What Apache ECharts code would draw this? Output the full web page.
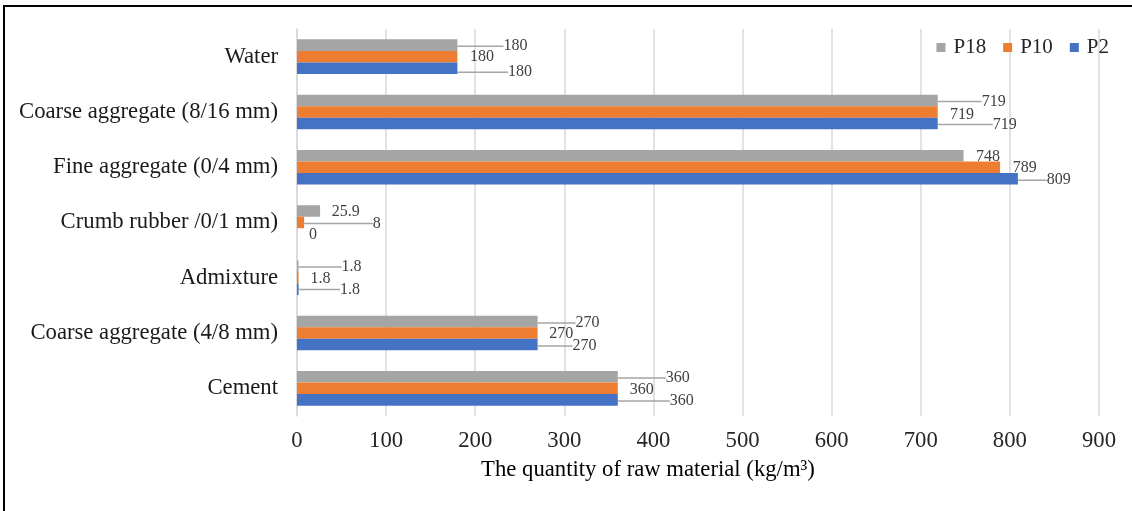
<!DOCTYPE html>
<html>
<head>
<meta charset="utf-8">
<script src="https://cdn.jsdelivr.net/npm/echarts@6/dist/echarts.min.js"></script>
<style>
html,body{margin:0;padding:0;background:#fff;}
#chart{width:1132px;height:511px;}
</style>
</head>
<body>
<div id="chart"></div>
<script>
// Categories listed bottom to top (category axis starts at bottom)
const categories = ['Cement', 'Coarse aggregate (4/8 mm)', 'Admixture', 'Crumb rubber /0/1 mm)', 'Fine aggregate (0/4 mm)', 'Coarse aggregate (8/16 mm)', 'Water'];
const seriesNames = ['P18', 'P10', 'P2'];
const p18 = [360, 270, 1.8, 25.9, 748, 719, 180];
const p10 = [360, 270, 1.8, 8, 789, 719, 180];
const p2 = [360, 270, 1.8, 0, 809, 719, 180];
const xTicks = [0, 100, 200, 300, 400, 500, 600, 700, 800, 900];

// label offsets (style only): [dx, dy] relative to default 'right' position
const labelOffsets = {
  P18: [[43, 1.2], [33, 1.4], [38, 0.7], [6.6, 1], [7.5, 1], [39, 1], [41, 1]],
  P10: [[7, 1.3], [6.7, 0.6], [7, 0.8], [63.6, 1], [7.6, 0.7], [7.3, 2.5], [7.6, 0.5]],
  P2:  [[47, 1.2], [30, 1.4], [36.4, 0.3], [7, 0.5], [23.8, 1.5], [50, 1], [45.6, 4]]
};
const colors = { P18: '#A5A5A5', P10: '#ED7D31', P2: '#4472C4' };
const values = { P18: p18, P10: p10, P2: p2 };

const FONT = '"Liberation Serif", "Times New Roman", serif';
const BIG = 22.7;

const chart = echarts.init(document.getElementById('chart'), null, { renderer: 'canvas' });

const series = seriesNames.map(function (name) {
  return {
    name: name,
    type: 'bar',
    barGap: '0%',
    barCategoryGap: '37.5%',
    itemStyle: { color: colors[name] },
    data: values[name].map(function (v, i) {
      return {
        value: v,
        labelLine: { show: labelOffsets[name][i][0] > 15 }
      };
    }),
    label: {
      show: true,
      position: 'right',
      distance: 5,
      fontFamily: FONT,
      fontSize: 16,
      color: '#404040'
    },
    labelLine: {
      show: true,
      lineStyle: { color: '#A5A5A5', width: 1.5 }
    },
    labelLayout: function (params) {
      const off = labelOffsets[name][params.dataIndex];
      return { dx: off[0], dy: off[1] };
    }
  };
});

chart.setOption({
  animation: false,
  backgroundColor: '#ffffff',
  textStyle: { fontFamily: FONT },
  grid: { left: 297, right: 33, top: 29, bottom: 95, containLabel: false },
  legend: {
    data: seriesNames,
    right: 18,
    top: 32,
    icon: 'rect',
    itemWidth: 9,
    itemHeight: 9,
    itemGap: 17,
    textStyle: { fontFamily: FONT, fontSize: 21, color: '#262626', padding: [0, 0, 0, 3] }
  },
  xAxis: {
    type: 'value',
    min: xTicks[0],
    max: xTicks[xTicks.length - 1],
    interval: xTicks[1] - xTicks[0],
    name: 'The quantity of raw material (kg/m³)',
    nameLocation: 'middle',
    nameGap: 43,
    nameTextStyle: { fontFamily: FONT, fontSize: BIG, color: '#000000', verticalAlign: 'top', padding: [0, 100, 0, 0] },
    axisLine: { show: false },
    axisTick: { show: false },
    axisLabel: { fontFamily: FONT, fontSize: BIG, color: '#262626', margin: 14 },
    splitLine: { show: true, lineStyle: { color: '#D9D9D9', width: 1.5 } }
  },
  yAxis: {
    type: 'category',
    data: categories,
    axisLine: { show: true, lineStyle: { color: '#D9D9D9', width: 1.5 } },
    axisTick: { show: false },
    axisLabel: { fontFamily: FONT, fontSize: BIG, color: '#1a1a1a', margin: 19 }
  },
  graphic: [
    { type: 'line', shape: { x1: 3, y1: 6, x2: 1132, y2: 6 }, style: { stroke: '#000', lineWidth: 2 } },
    { type: 'line', shape: { x1: 4, y1: 5, x2: 4, y2: 511 }, style: { stroke: '#000', lineWidth: 2 } }
  ],
  series: series
});
</script>
</body>
</html>
